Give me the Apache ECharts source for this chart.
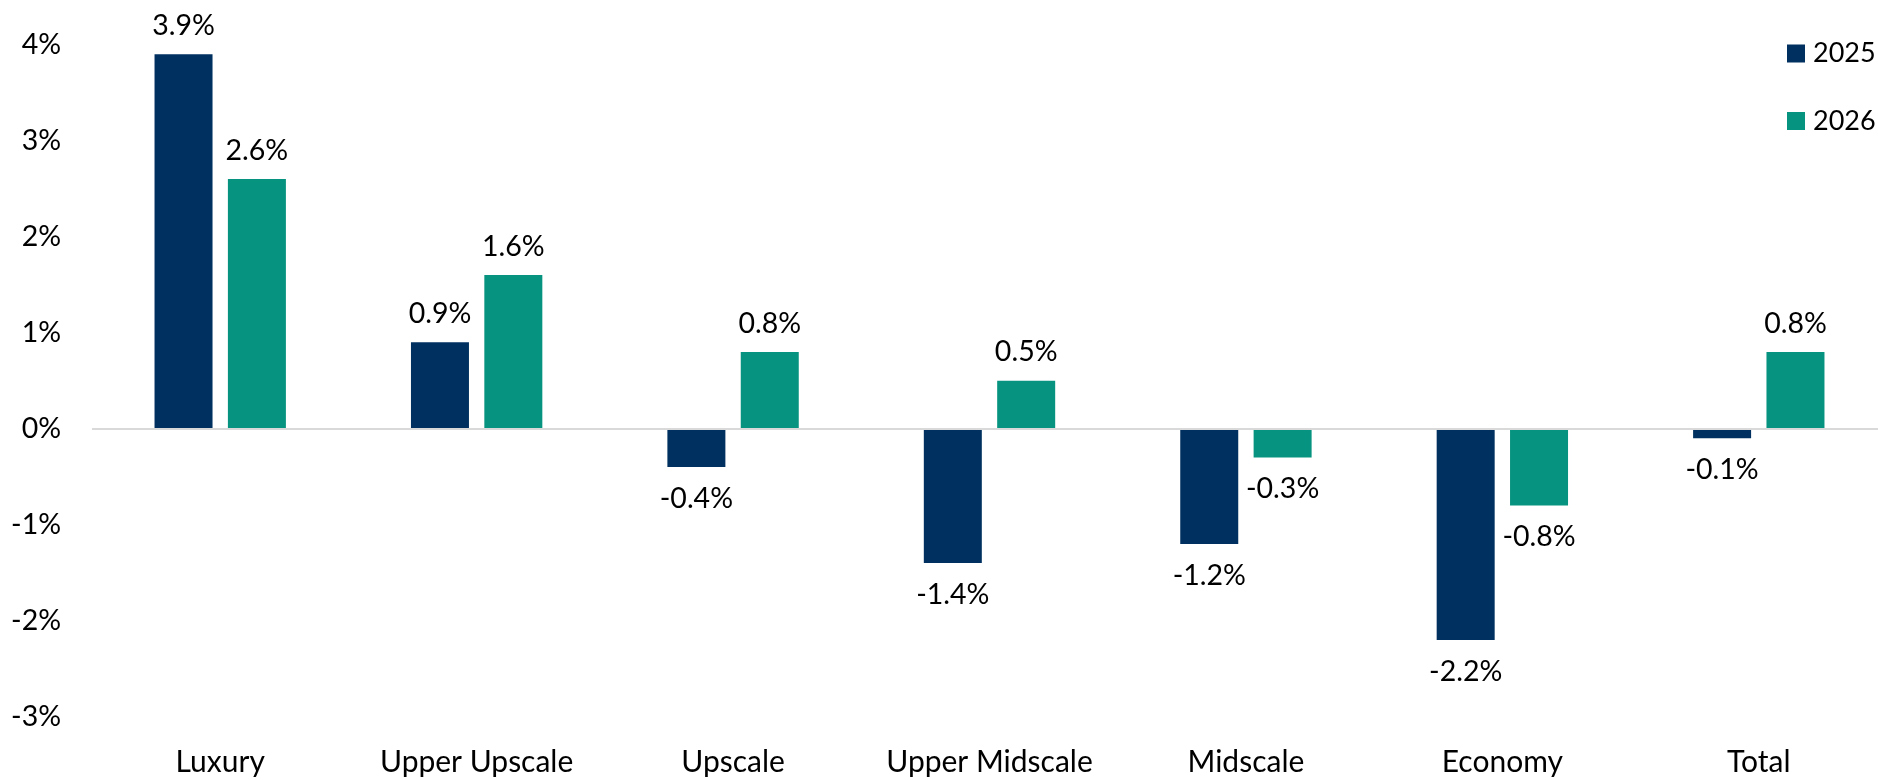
<!DOCTYPE html>
<html>
<head>
<meta charset="utf-8">
<title>Segment growth 2025 vs 2026</title>
<script src="https://cdn.jsdelivr.net/npm/echarts@6/dist/echarts.min.js"></script>
<style>
  html, body { margin: 0; padding: 0; background: #ffffff; overflow: hidden; }
  /* plot area runs a few pixels past the right edge of the window */
  #chart { width: 1890px; height: 780px; }
</style>
</head>
<body>
<div id="chart"></div>
<script>
// Chain-scale segments and yearly percentage changes
const categories = ['Luxury', 'Upper Upscale', 'Upscale', 'Upper Midscale', 'Midscale', 'Economy', 'Total'];
const values2025 = [3.9, 0.9, -0.4, -1.4, -1.2, -2.2, -0.1];
const values2026 = [2.6, 1.6, 0.8, 0.5, -0.3, -0.8, 0.8];
const seriesNames = ['2025', '2026'];
const yTicks = { min: -3, max: 4, interval: 1 };

const FONT = 'Lato, "Open Sans", sans-serif';
const TEXT_SIZE = 28.5;
const LEGEND_SIZE = 27;
const CATEGORY_SIZE = 30;
const COLORS = ['#00305F', '#06937F'];

// negative bars carry their label beneath the bar end
function withLabels(values) {
  return values.map(v => ({
    value: v,
    label: v < 0 ? { position: 'bottom', distance: 17 } : { position: 'top', distance: 14 }
  }));
}

function barSeries(name, values, color, withZeroLine) {
  const s = {
    name: name,
    type: 'bar',
    data: withLabels(values),
    barWidth: 58,
    barGap: '26.5%',
    itemStyle: { color: color },
    label: {
      show: true,
      color: '#000000',
      fontFamily: FONT,
      fontSize: TEXT_SIZE,
      formatter: p => p.value.toFixed(1) + '%'
    },
    emphasis: { disabled: true }
  };
  if (withZeroLine) {
    s.markLine = {
      silent: true,
      symbol: 'none',
      label: { show: false },
      lineStyle: { color: '#D9D9D9', width: 2, type: 'solid' },
      data: [{ yAxis: 0 }]
    };
  }
  return s;
}

const chart = echarts.init(document.getElementById('chart'), null, { renderer: 'canvas' });

chart.setOption({
  animation: false,
  backgroundColor: '#ffffff',
  grid: {
    left: 92,
    top: 44.7,
    width: 1795,
    height: 672
  },
  legend: {
    orient: 'vertical',
    left: 1782,
    top: 35,
    itemWidth: 18,
    itemHeight: 18,
    itemGap: 40.5,
    icon: 'rect',
    data: seriesNames,
    textStyle: {
      color: '#000000',
      fontFamily: FONT,
      fontSize: LEGEND_SIZE,
      padding: [0, 0, 0, 3]
    }
  },
  xAxis: {
    type: 'category',
    data: categories,
    axisLine: { show: false, onZero: false },
    axisTick: { show: false },
    axisLabel: {
      interval: 0,
      color: '#000000',
      fontFamily: FONT,
      fontSize: CATEGORY_SIZE,
      margin: 31
    }
  },
  yAxis: {
    type: 'value',
    min: yTicks.min,
    max: yTicks.max,
    interval: yTicks.interval,
    axisLine: { show: false },
    axisTick: { show: false },
    splitLine: { show: false },
    axisLabel: {
      color: '#000000',
      fontFamily: FONT,
      fontSize: TEXT_SIZE,
      margin: 31,
      formatter: '{value}%'
    }
  },
  series: [
    barSeries(seriesNames[0], values2025, COLORS[0], true),
    barSeries(seriesNames[1], values2026, COLORS[1], false)
  ]
});
</script>
</body>
</html>
